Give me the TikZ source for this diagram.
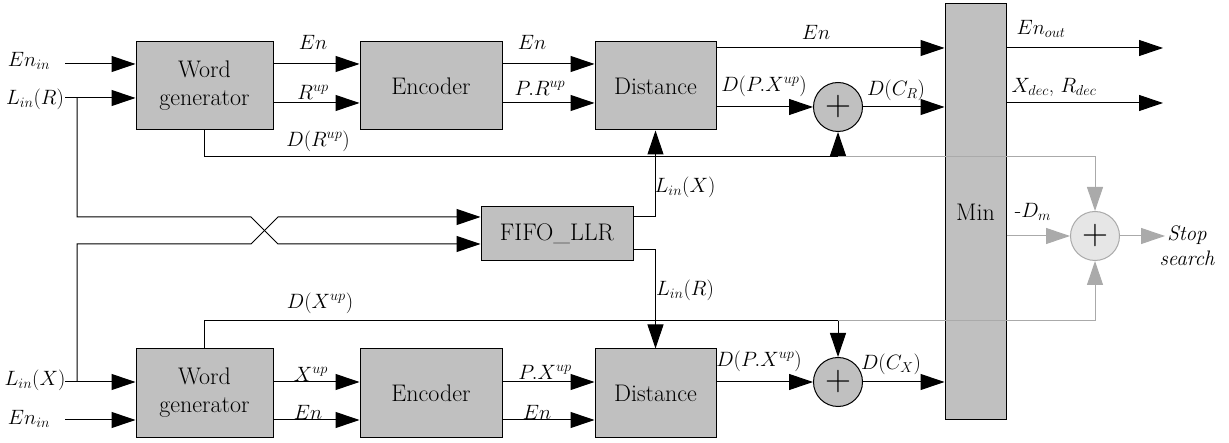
\documentclass[tikz,border=0pt]{standalone}
\usetikzlibrary{arrows.meta}

\definecolor{boxgray}{HTML}{C0C0C0}
\definecolor{linegray}{HTML}{AAAAAA}
\definecolor{addgray}{HTML}{E6E6E6}

\tikzstyle{block}=[draw, line width=1pt, fill=boxgray, minimum height=88pt, align=center, inner sep=0pt, font=\fontsize{24}{28}\selectfont]
\tikzstyle{adder}=[draw, line width=1pt, circle, fill=boxgray, minimum size=49pt, inner sep=0pt, font=\fontsize{36}{36}\selectfont]
\tikzstyle{sig}=[-{Triangle[length=24pt,width=16pt]}, line width=1pt]
\tikzstyle{gsig}=[sig, linegray]
\tikzstyle{lbl}=[font=\fontsize{21}{24}\selectfont, inner sep=0pt]

\begin{document}
\begin{tikzpicture}[x=1pt, y=-1pt]
    \useasboundingbox (0,0) rectangle (1229,443);
    % blocks
    \node[block, minimum width=137pt] (wordgen0) at (204.5,86) {Word\\generator};
    \node[block, minimum width=142pt] (encoder0) at (431,86) {Encoder};
    \node[block, minimum width=121pt] (dist0) at (655.5,86) {Distance};
    \node[block, minimum width=137pt] (wordgen1) at (204.5,393) {Word\\generator};
    \node[block, minimum width=142pt] (encoder1) at (431,393) {Encoder};
    \node[block, minimum width=121pt] (dist1) at (655.5,393) {Distance};
    \node[block, minimum width=152pt, minimum height=54pt] (fifo) at (557,234) {FIFO\_LLR};
    \node[block, minimum width=61pt, minimum height=416pt] (min) at (975.5,212) {Min};
    \node[adder] (add0) at (838,107) {+};
    \node[adder] (add1) at (838,382) {+};
    \node[adder, draw=linegray, fill=addgray] (add2) at (1095,236) {+};
    % rows and free ends
    \coordinate (yEn0) at (0,64);
    \coordinate (yR0) at (0,103);
    \coordinate (yOut0) at (0,48);
    \coordinate (yX1) at (0,382);
    \coordinate (yEn1) at (0,420);
    \coordinate (yFx) at (0,217);
    \coordinate (yFr) at (0,250);
    \coordinate (in0a) at (65,64);
    \coordinate (in0b) at (65,98);
    \coordinate (in1a) at (65,382);
    \coordinate (in1b) at (65,420);
    \coordinate (tapR) at (77,98);
    \coordinate (tapX) at (77,382);
    \coordinate (crossR0) at (251,217);
    \coordinate (crossR1) at (278,244);
    \coordinate (crossX0) at (251,244);
    \coordinate (crossX1) at (278,217);
    \coordinate (bendR) at (838,157);
    \coordinate (bendX) at (838,321);
    \coordinate (outEn) at (1163,48);
    \coordinate (outDec) at (1163,103);
    \coordinate (outStop) at (1165,236);
    % labels
    \node[lbl] (enin0) at (29,61) {$En_{in}$};
    \node[lbl] (linr) at (35,99) {$L_{in}(R)$};
    \node[lbl] (linx) at (35,380) {$L_{in}(X)$};
    \node[lbl] (enin1) at (29,419) {$En_{in}$};
    \node[lbl] (en0a) at (313,42) {$En$};
    \node[lbl] (rup0) at (313,92) {$R^{up}$};
    \node[lbl] (drup) at (318,141) {$D(R^{up})$};
    \node[lbl] (en0b) at (532,42) {$En$};
    \node[lbl] (prup) at (540,88) {$P.R^{up}$};
    \node[lbl] (en0c) at (816,32) {$En$};
    \node[lbl] (dpx0) at (764,86) {$D(P.X^{up})$};
    \node[lbl] (dcr) at (896,90) {$D(C_R)$};
    \node[lbl] (enout) at (1041,29) {$En_{out}$};
    \node[lbl] (xdec) at (1054,87) {$X_{dec}$, $R_{dec}$};
    \node[lbl] (linx1) at (685,187) {$L_{in}(X)$};
    \node[lbl] (linr1) at (685,290) {$L_{in}(R)$};
    \node[lbl] (dm) at (1033,212) {-$D_m$};
    \node[lbl, align=center, font=\fontsize{21}{25}\selectfont\itshape] (stop) at (1187,246) {Stop\\search};
    \node[lbl] (dxup) at (320,303) {$D(X^{up})$};
    \node[lbl] (xup1) at (311,374) {$X^{up}$};
    \node[lbl] (en1a) at (308,412) {$En$};
    \node[lbl] (pxup) at (545,372) {$P.X^{up}$};
    \node[lbl] (en1b) at (537,412) {$En$};
    \node[lbl] (dpx1) at (759,361) {$D(P.X^{up})$};
    \node[lbl] (dcx) at (891,364) {$D(C_X)$};
    % upper path
    \draw[sig] (in0a) -- (wordgen0.west |- in0a);
    \draw[sig] (in0b) -- (wordgen0.west |- in0b);
    \draw[sig] (wordgen0.east |- yEn0) -- (encoder0.west |- yEn0);
    \draw[sig] (wordgen0.east |- yR0) -- (encoder0.west |- yR0);
    \draw[sig] (encoder0.east |- yEn0) -- (dist0.west |- yEn0);
    \draw[sig] (encoder0.east |- yR0) -- (dist0.west |- yR0);
    \draw[sig] (dist0.east |- yOut0) -- (min.west |- yOut0);
    \draw[sig] (dist0.east |- add0) -- (add0);
    \draw[sig] (add0) -- (min.west |- add0);
    \draw[sig] (min.east |- outEn) -- (outEn);
    \draw[sig] (min.east |- outDec) -- (outDec);
    \draw[sig] (wordgen0.south) |- (bendR) -- (add0);
    % lower path
    \draw[sig] (in1a) -- (wordgen1.west |- in1a);
    \draw[sig] (in1b) -- (wordgen1.west |- in1b);
    \draw[sig] (wordgen1.east |- yX1) -- (encoder1.west |- yX1);
    \draw[sig] (wordgen1.east |- yEn1) -- (encoder1.west |- yEn1);
    \draw[sig] (encoder1.east |- yX1) -- (dist1.west |- yX1);
    \draw[sig] (encoder1.east |- yEn1) -- (dist1.west |- yEn1);
    \draw[sig] (dist1.east |- add1) -- (add1);
    \draw[sig] (add1) -- (min.west |- add1);
    \draw[sig] (wordgen1.north) |- (bendX) -- (add1);
    % fifo
    \draw[sig] (tapR) |- (crossR0) -- (crossR1) -- (fifo.west |- crossR1);
    \draw[sig] (tapX) |- (crossX0) -- (crossX1) -- (fifo.west |- crossX1);
    \draw[sig] (fifo.east |- yFx) -| (dist0);
    \draw[sig] (fifo.east |- yFr) -| (dist1);
    % stop search
    \draw[gsig] (bendR) -| (add2);
    \draw[gsig] (bendX) -| (add2);
    \draw[gsig] (min.east |- add2) -- (add2);
    \draw[gsig] (add2) -- (outStop);
\end{tikzpicture}
\end{document}
